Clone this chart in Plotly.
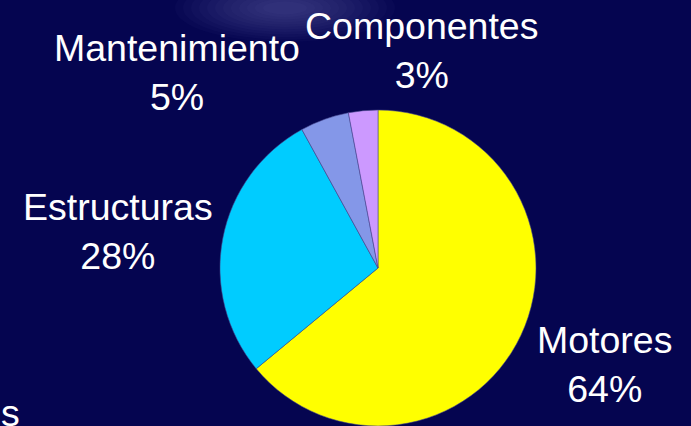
import plotly.graph_objects as go

# Cost breakdown by category (percent of total)
categories = ["Motores", "Estructuras", "Mantenimiento", "Componentes"]
shares = [64, 28, 5, 3]
slice_colors = ["#FFFF00", "#00CCFF", "#8497E8", "#CC99FF"]

W, H = 691, 426
BG = "#050550"


def px_x(x):
    return x / W


def px_y(y):
    return 1 - y / H


fig = go.Figure()

fig.add_trace(go.Pie(
    labels=categories,
    values=shares,
    sort=False,
    direction="clockwise",
    rotation=0,
    textinfo="none",
    hoverinfo="label+percent",
    marker=dict(colors=slice_colors, line=dict(color="rgba(70,70,140,0.7)", width=0.8)),
    domain=dict(x=[px_x(216), px_x(540)], y=[px_y(426), px_y(110)]),
    showlegend=False,
))

# Label placement (pixel centres of each two-line label block)
label_pos = {
    "Componentes": (421, 51),
    "Mantenimiento": (177, 72),
    "Estructuras": (118, 231),
    "Motores": (604, 364),
}

FONT = "Liberation Sans, Arial, sans-serif"

annotations = []
for name, pct in zip(categories, shares):
    cx, cy = label_pos[name]
    annotations.append(dict(
        x=px_x(cx), y=px_y(cy), xref="paper", yref="paper",
        text=f"{name}<br>{pct}%", showarrow=False,
        xanchor="center", yanchor="middle", align="center",
        font=dict(family=FONT, size=37.5, color="white"),
    ))

# Trailing letter of the slide's side text at the left edge
annotations.append(dict(
    x=0, y=px_y(413), xref="paper", yref="paper",
    text="s", showarrow=False, xanchor="left", yanchor="middle",
    borderpad=0,
    font=dict(family=FONT, size=37.5, color="white"),
))

# Soft light streak across the top of the background, built from
# many faint nested ellipses so the edges blend in
shapes = []
cx, cy = 285, 8
for i in range(12):
    rx = 110 - i * 8
    ry = 34 - i * 2.5
    shapes.append(dict(
        type="circle", xref="paper", yref="paper",
        x0=px_x(cx - rx), x1=px_x(cx + rx), y0=px_y(cy + ry), y1=px_y(cy - ry),
        fillcolor="rgb(160,160,230)", opacity=0.03, line=dict(width=0), layer="below",
    ))

fig.update_layout(
    width=W, height=H,
    margin=dict(l=0, r=0, t=0, b=0),
    paper_bgcolor=BG, plot_bgcolor=BG,
    annotations=annotations,
    shapes=shapes,
)

fig.write_html("out.html")
